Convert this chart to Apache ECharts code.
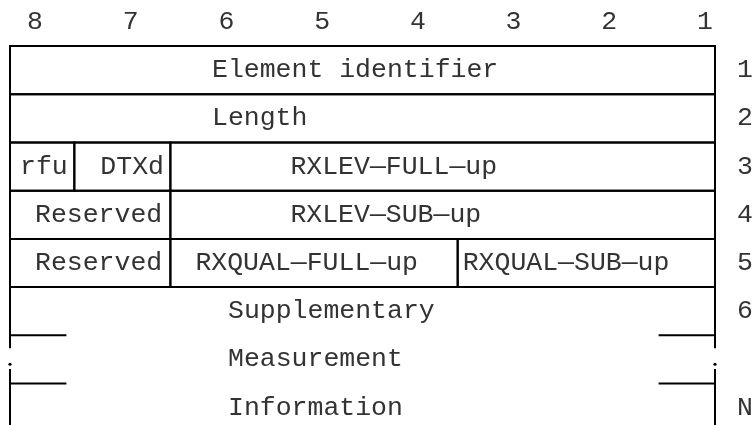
<!DOCTYPE html>
<html>
<head>
<meta charset="utf-8">
<script src="https://cdn.jsdelivr.net/npm/echarts@6/dist/echarts.min.js"></script>
<style>
html,body{margin:0;padding:0;background:#fff;}
#chart{width:755px;height:425px;}
</style>
</head>
<body>
<div id="chart"></div>
<script>
// ---- data ----
const bitLabels = ['8', '7', '6', '5', '4', '3', '2', '1'];
const fieldLabels = ['Element identifier', 'Length', 'rfu', 'DTXd', 'RXLEV\u2014FULL\u2014up',
  'Reserved', 'RXLEV\u2014SUB\u2014up', 'Reserved', 'RXQUAL\u2014FULL\u2014up', 'RXQUAL\u2014SUB\u2014up'];
const fieldRows = [0, 1, 2, 2, 2, 3, 3, 4, 4, 4];
const fieldStart = [8, 8, 8, 7.27, 6.18, 8, 6.18, 8, 6.18, 2.92];   // left bit boundary
const fieldEnd = [0, 0, 7.27, 6.18, 0, 6.18, 0, 6.18, 2.92, 0];     // right bit boundary
const openLabels = ['Supplementary', 'Measurement', 'Information'];
const openRows = [5, 6, 7];
const octetLabels = ['1', '2', '3', '4', '5', '6', 'N'];
const octetRows = [0, 1, 2, 3, 4, 5, 7];

// ---- layout / style ----
const FONT = '"Liberation Mono", "DejaVu Sans Mono", monospace';
const FS = 26.5;
const TXT = '#333';
const LINE = '#000';
const LW = 2;
const fieldTextOffset = [202, 202, 10, 26, 120, 25, 120, 25, 25, 5];
const openTextOffset = 218;
const tickLen = 0.64;     // short ticks, in bit units
const gapTop = 6.27, dotRow = 6.6, gapBottom = 6.7;

const chart = echarts.init(document.getElementById('chart'), null, {renderer: 'canvas'});

function txt(x, y, s, align) {
  return {type: 'text', style: {x: x, y: y, text: s, fill: TXT, font: FS + 'px ' + FONT,
    textAlign: align || 'left', textVerticalAlign: 'middle'}};
}
function seg(api, a, b) {
  const p = api.coord(a), q = api.coord(b);
  return {type: 'line', shape: {x1: p[0], y1: p[1], x2: q[0], y2: q[1]},
    style: {stroke: LINE, lineWidth: LW}};
}

const option = {
  animation: false,
  grid: [
    {left: 10, right: 40, top: 46, bottom: 0},
    {left: 35, right: 50, top: 22, height: 1}
  ],
  xAxis: [
    {type: 'value', min: 0, max: 8, inverse: true, show: false, gridIndex: 0},
    {type: 'category', gridIndex: 1, data: bitLabels, boundaryGap: false, position: 'top',
      axisLine: {show: false}, axisTick: {show: false}, splitLine: {show: false},
      axisLabel: {margin: 0, verticalAlign: 'middle', fontSize: FS, fontFamily: FONT, color: TXT}}
  ],
  yAxis: [
    {type: 'value', min: 0, max: 7.86, inverse: true, show: false, gridIndex: 0},
    {type: 'value', gridIndex: 1, show: false}
  ],
  series: [
    {
      type: 'custom', xAxisIndex: 0, yAxisIndex: 0,
      data: fieldLabels.map((l, i) => [fieldStart[i], fieldEnd[i], fieldRows[i], i]),
      encode: {x: [0, 1], y: 2},
      renderItem: function (params, api) {
        const i = api.value(3);
        const r = api.value(2);
        const p0 = api.coord([api.value(0), r]);
        const p1 = api.coord([api.value(1), r + 1]);
        return {type: 'group', children: [
          {type: 'rect', shape: {x: p0[0], y: p0[1], width: p1[0] - p0[0], height: p1[1] - p0[1]},
            style: {fill: 'none', stroke: LINE, lineWidth: LW}},
          txt(p0[0] + fieldTextOffset[i], (p0[1] + p1[1]) / 2, fieldLabels[i])
        ]};
      }
    },
    {
      type: 'custom', xAxisIndex: 0, yAxisIndex: 0,
      data: [[0, 5]],
      renderItem: function (params, api) {
        const ch = [];
        [8, 0].forEach(function (x) {
          const inward = x === 8 ? x - tickLen : x + tickLen;
          ch.push(seg(api, [x, 5], [x, gapTop]));
          ch.push(seg(api, [x, 6], [inward, 6]));
          ch.push(seg(api, [x, gapBottom], [x, 7.86]));
          ch.push(seg(api, [x, 7], [inward, 7]));
          const d = api.coord([x, dotRow]);
          ch.push({type: 'circle', shape: {cx: d[0], cy: d[1], r: 1.6}, style: {fill: LINE}});
        });
        const left = api.coord([8, 0])[0];
        openLabels.forEach(function (s, k) {
          const y = api.coord([8, openRows[k] + 0.5])[1];
          ch.push(txt(left + openTextOffset, y, s));
        });
        const right = api.coord([0, 0])[0];
        octetLabels.forEach(function (s, k) {
          const y = api.coord([0, octetRows[k] + 0.5])[1];
          ch.push(txt(right + 30, y, s, 'center'));
        });
        return {type: 'group', children: ch};
      }
    }
  ]
};
chart.setOption(option);
</script>
</body>
</html>
